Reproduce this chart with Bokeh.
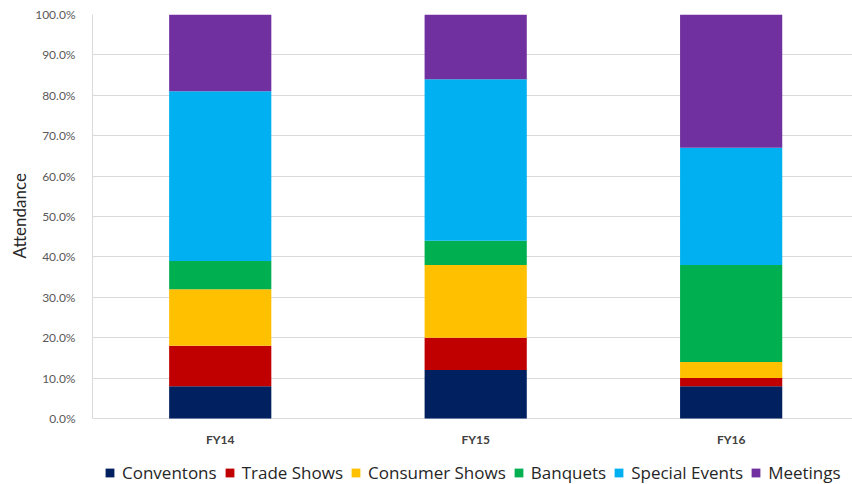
from bokeh.plotting import figure
from bokeh.models import (ColumnDataSource, Range1d, FixedTicker, PrintfTickFormatter,
                          Legend, Title)
from bokeh.core.properties import value
from bokeh.embed import file_html
from bokeh.resources import INLINE

years = ["FY14", "FY15", "FY16"]
series = ["Conventons", "Trade Shows", "Consumer Shows", "Banquets", "Special Events", "Meetings"]
conventions = [8, 12, 8]
trade_shows = [10, 8, 2]
consumer_shows = [14, 18, 4]
banquets = [7, 6, 24]
special_events = [42, 40, 29]
meetings = [19, 16, 33]
colors = ["#002060", "#C00000", "#FFC000", "#00B050", "#00B0F0", "#7030A0"]
y_ticks = [0, 10, 20, 30, 40, 50, 60, 70, 80, 90, 100]

FONT = "Lato"
xs = list(range(len(years)))
data = {"x": xs, "year": years, "Conventons": conventions, "Trade Shows": trade_shows,
        "Consumer Shows": consumer_shows, "Banquets": banquets,
        "Special Events": special_events, "Meetings": meetings}
src = ColumnDataSource(data)

# frame spans full height; 0..100 occupies the upper part, lower strip holds
# category labels and the legend
PX_PER_UNIT = 404 / 100.0
y_bottom = -66 / PX_PER_UNIT

p = figure(width=852, height=484, output_backend="svg", toolbar_location=None,
           x_range=Range1d(-0.5, 2.475), y_range=Range1d(y_bottom, 100),
           min_border_left=92, min_border_right=0, min_border_top=14, min_border_bottom=0)
p.outline_line_color = None
p.background_fill_color = "white"

rs = p.vbar_stack(series, x="x", width=0.4, color=colors, source=src, line_color=None)

# category labels under the bars
p.text(x="x", y=-21 / PX_PER_UNIT, text="year", source=src,
       text_font=value(FONT), text_font_size="12px", text_font_style="bold",
       text_color="#404040", text_align="center", text_baseline="middle")

p.yaxis.ticker = FixedTicker(ticks=y_ticks)
p.yaxis.bounds = (0, 100)
p.yaxis.formatter = PrintfTickFormatter(format="%.1f%%")
p.yaxis.major_label_text_font = FONT
p.yaxis.major_label_text_font_size = "12px"
p.yaxis.major_label_text_color = "#595959"
p.yaxis.major_tick_line_color = None
p.yaxis.minor_tick_line_color = None
p.yaxis.axis_line_color = "#D9D9D9"
p.yaxis.major_label_standoff = 11

# y-axis title, placed alongside the 0-100% part of the frame
ytitle = Title(text="Attendance", align="left", offset=226, standoff=6,
               text_font=FONT, text_font_size="17px", text_font_style="normal",
               text_color="#262626")
p.add_layout(ytitle, "left")

p.xaxis.visible = False
p.xgrid.grid_line_color = None
p.ygrid.grid_line_color = "#D9D9D9"
p.ygrid.ticker = FixedTicker(ticks=y_ticks)

legend = Legend(items=[(s, [r]) for s, r in zip(series, rs)], orientation="horizontal",
                location=(12, 0))
legend.label_text_font = "Open Sans"
legend.label_text_font_size = "17px"
legend.label_text_color = "#262626"
legend.glyph_width = 11
legend.glyph_height = 11
legend.label_standoff = 7
legend.spacing = 7
legend.padding = 0
legend.margin = 0
legend.border_line_color = None
legend.background_fill_alpha = 0
p.add_layout(legend)

open("out.html", "w").write(file_html(p, INLINE))
